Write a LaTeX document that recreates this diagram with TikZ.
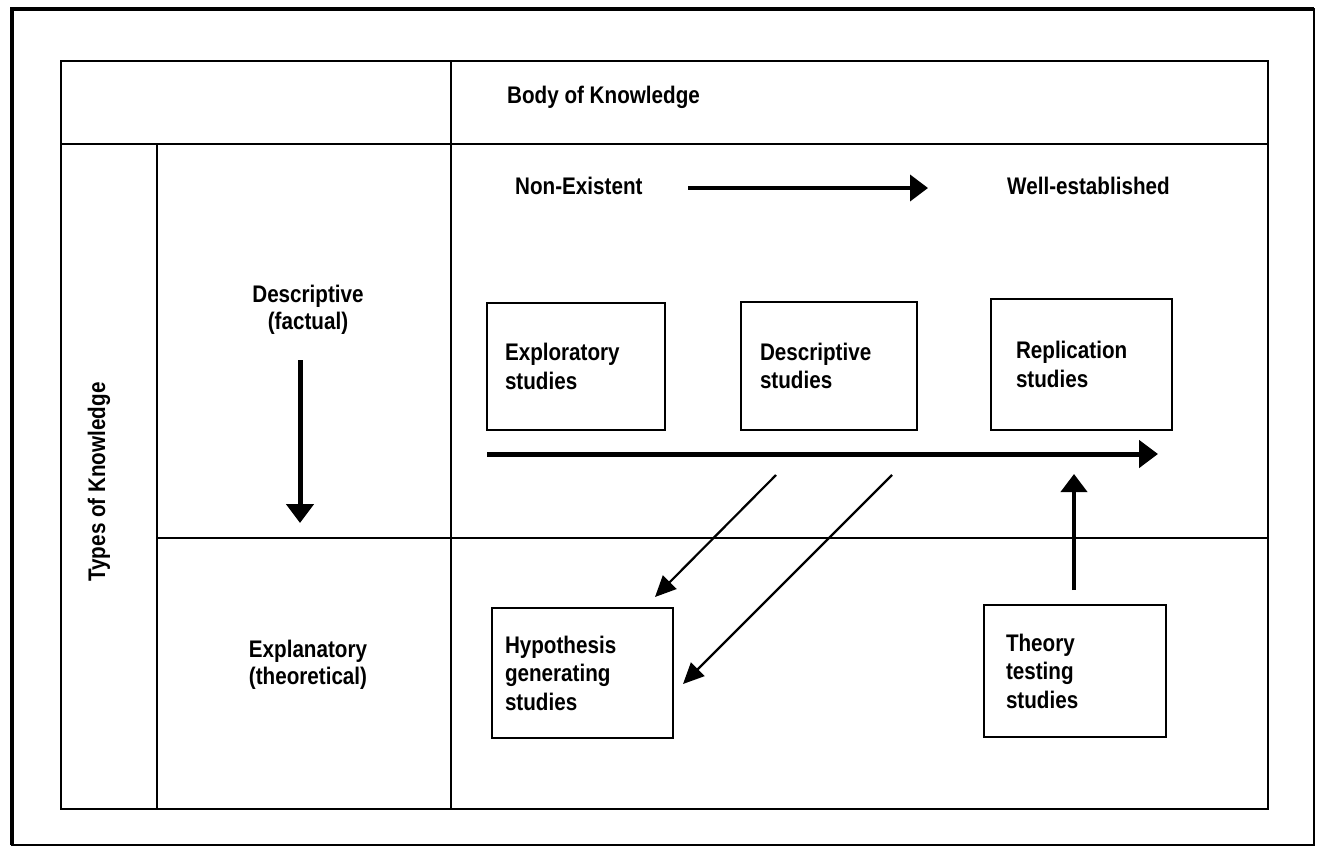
\documentclass[tikz,border=0pt]{standalone}
\usepackage{fontspec}
\setmainfont{Liberation Sans}
\newfontfamily\condfont{Liberation Sans}[FakeStretch=0.86]
\usetikzlibrary{arrows.meta}
\begin{document}
\begin{tikzpicture}[x=1pt,y=-1pt,
  lbl/.style={font=\condfont\bfseries\fontsize{24}{27}\selectfont, inner sep=0pt},
  studybox/.style={draw, line width=2pt, font=\condfont\bfseries\fontsize{24}{28.5}\selectfont, align=left, inner ysep=0pt},
  grid/.style={line width=2.2pt},
  bigarrow/.style={line width=5pt, -{Triangle[length=19pt,width=27pt]}},
  midarrow/.style={line width=4pt, -{Triangle[length=18pt,width=26pt]}},
  thinarrow/.style={line width=2.2pt, -{Triangle[length=21pt,width=19pt]}}]
\useasboundingbox (0,0) rectangle (1321,852);
% outer frame
\draw[line width=2pt] (12,9) -- (1314,9) -- (1314,845) -- (12,845) -- cycle;
\draw[line width=4.5pt] (12,845) -- (12,9) -- (1314,9);
% table
\draw[grid] (61,61) rectangle (1268,809);
\draw[grid] (61,144) -- (1268,144);
\draw[grid] (451,61) -- (451,809);
\draw[grid] (157,144) -- (157,809);
\draw[grid] (157,538) -- (1268,538);
% headers
\node[lbl, anchor=base west] (body) at (507,103) {Body of Knowledge};
\node[lbl, anchor=base west] (nonex) at (515,194) {Non-Existent};
\node[lbl, anchor=base west] (well) at (1007,194) {Well-established};
\node[lbl, rotate=90] (types) at (99,482) {Types of Knowledge};
\node[lbl, align=center] (desc) at (308,310) {Descriptive\\(factual)};
\node[lbl, align=center] (expl) at (308,665) {Explanatory\\(theoretical)};
% study boxes
\node[studybox, inner xsep=18pt, text width=142pt, minimum height=127pt] (explor) at (576,366.5) {Exploratory\\studies};
\node[studybox, inner xsep=19pt, text width=138pt, minimum height=128pt] (descst) at (829,366) {Descriptive\\studies};
\node[studybox, inner xsep=25pt, text width=131pt, minimum height=131pt] (repl) at (1081.5,364.5) {Replication\\studies};
\node[studybox, inner xsep=13pt, text width=155pt, minimum height=130pt] (hyp) at (582.5,673) {Hypothesis\\generating\\studies};
\node[studybox, inner xsep=22pt, text width=138pt, minimum height=132pt] (theory) at (1075,671) {Theory\\testing\\studies};
% arrow end points
\coordinate (a1s) at (688,188);
\coordinate (a1e) at (928,188);
\coordinate (a2s) at (487,454);
\coordinate (a2e) at (1158,454);
\coordinate (a3s) at (300,360);
\coordinate (a3e) at (300,523);
\coordinate (a4s) at (1074,590);
\coordinate (a4e) at (1074,474);
\coordinate (a5s) at (776,475);
\coordinate (a5e) at (655,597);
\coordinate (a6s) at (892,475);
\coordinate (a6e) at (683,684);
% arrows
\draw[midarrow] (a1s) -- (a1e);
\draw[bigarrow] (a2s) -- (a2e);
\draw[bigarrow] (a3s) -- (a3e);
\draw[midarrow] (a4s) -- (a4e);
\draw[thinarrow] (a5s) -- (a5e);
\draw[thinarrow] (a6s) -- (a6e);
\end{tikzpicture}
\end{document}
